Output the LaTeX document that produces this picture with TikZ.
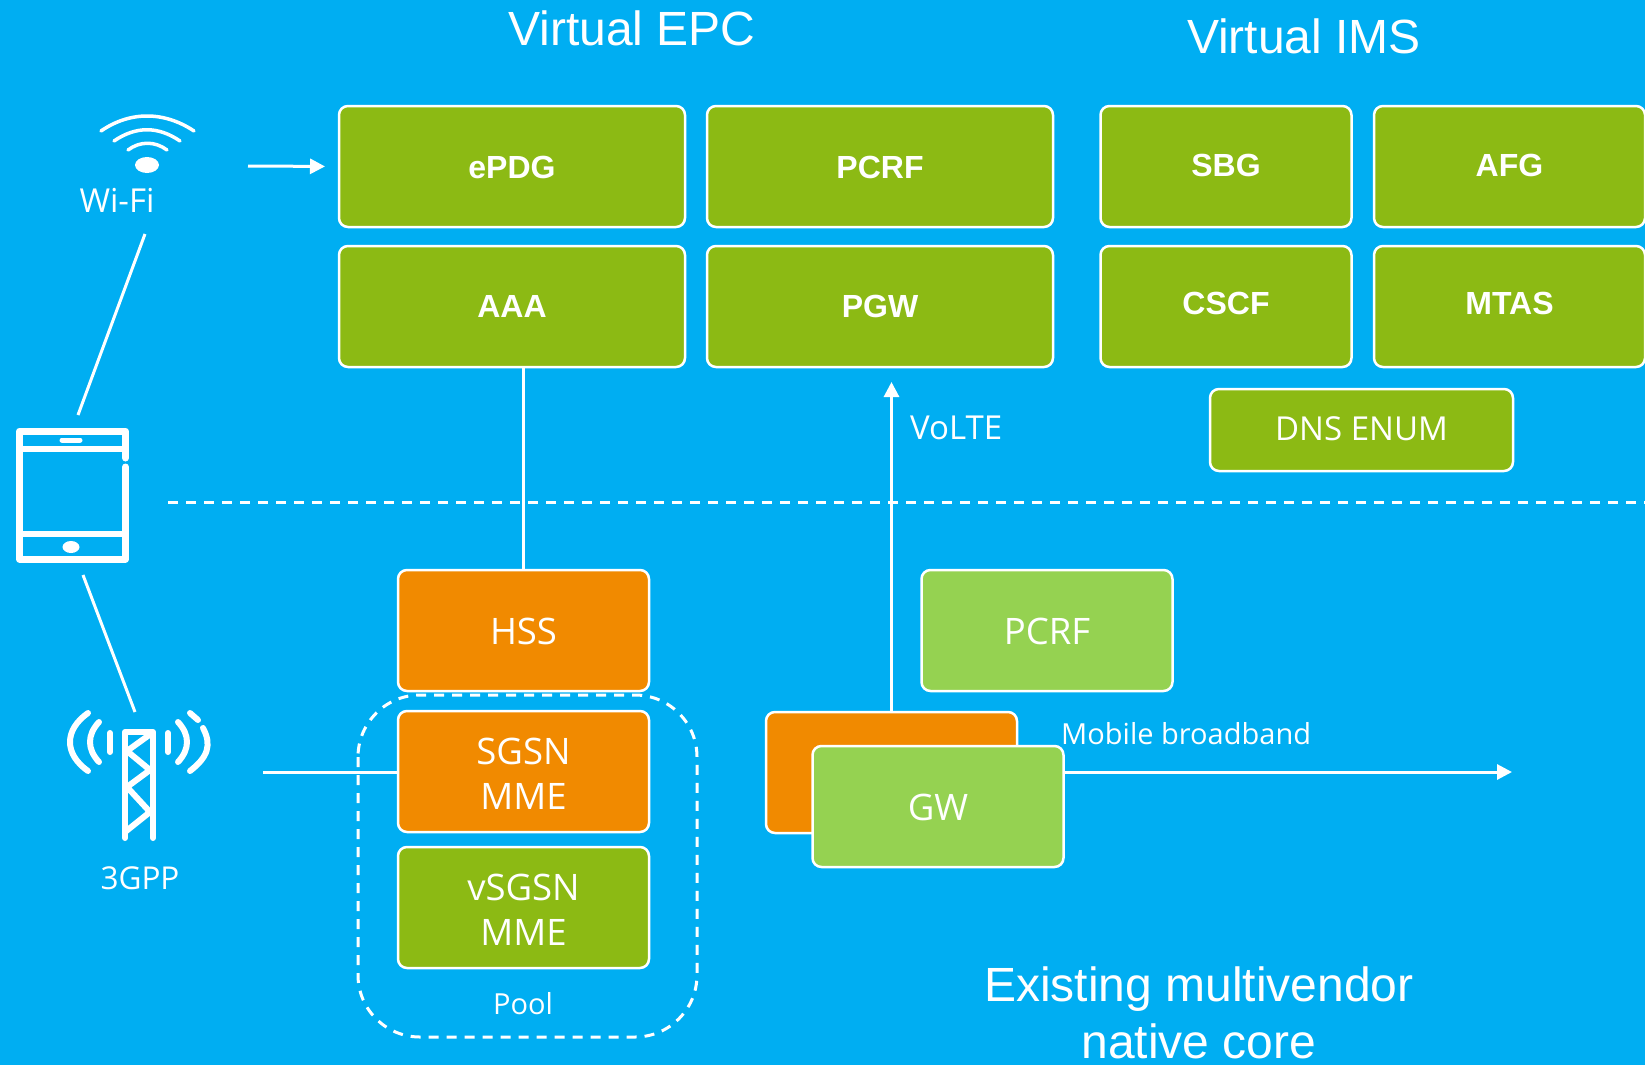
\documentclass[tikz,border=0pt]{standalone}
\usepackage{fontspec}
\setmainfont{Open Sans}
\newfontfamily\arialfont{Liberation Sans}
\usetikzlibrary{positioning,arrows.meta}
\definecolor{skyback}{HTML}{00AEF2}
\definecolor{vnfgreen}{HTML}{8CBA14}
\definecolor{nativeorange}{HTML}{F18A00}
\definecolor{nativegreen}{HTML}{95D251}
\newcommand{\liftlabel}[2]{\raisebox{#1}[\height][\depth]{#2}}
\tikzset{
  box/.style={draw=white, line width=2.5pt, rounded corners=9pt, text=white, align=center, outer sep=0pt, inner sep=0pt, font=\fontsize{36.5}{45}\selectfont},
  vbox/.style={box, fill=vnfgreen, font=\arialfont\bfseries\fontsize{32}{38}\selectfont},
  plainbox/.style={box, fill=vnfgreen},
  orangebox/.style={box, fill=nativeorange},
  lightbox/.style={box, fill=nativegreen},
  epcsize/.style={minimum width=346pt, minimum height=121pt},
  coresize/.style={minimum width=251pt, minimum height=121pt},
  whiteline/.style={draw=white, line width=3pt},
  whitearrow/.style={whiteline, -{Triangle[length=15pt,width=15pt]}},
  dashline/.style={draw=white, line width=3pt, dash pattern=on 10pt off 8pt},
  icon/.style={draw=white, line width=5pt, line cap=round, line join=round},
  label/.style={text=white, inner sep=0pt, font=\fontsize{29}{35}\selectfont},
  biglabel/.style={label, font=\fontsize{33}{40}\selectfont},
  title/.style={text=white, inner sep=0pt, align=center, font=\arialfont\fontsize{48}{57}\selectfont}
}
\begin{document}
\begin{tikzpicture}[x=1pt, y=-1pt]
    \fill[skyback] (0,0) rectangle (1645,1065);
    \useasboundingbox (0,0) rectangle (1645,1065);

    \node[title] (epctitle) at (632,28) {Virtual EPC};
    \node[title] (imstitle) at (1304,36) {Virtual IMS};

    \node[vbox, epcsize] (epdg) at (512,166.5) {\liftlabel{-1pt}{ePDG}};
    \node[vbox, epcsize, right=22pt of epdg] (pcrfv) {\liftlabel{-1pt}{PCRF}};
    \node[vbox, epcsize, below=19pt of epdg] (aaa) {AAA};
    \node[vbox, epcsize, below=19pt of pcrfv] (pgw) {PGW};

    \node[vbox, coresize] (sbg) at (1226,166.5) {\liftlabel{1pt}{SBG}};
    \node[vbox, minimum width=271pt, minimum height=121pt, right=22.5pt of sbg] (afg) {\liftlabel{1pt}{AFG}};
    \node[vbox, coresize, below=19pt of sbg] (cscf) {\liftlabel{3pt}{CSCF}};
    \node[vbox, minimum width=271pt, minimum height=121pt, below=19pt of afg] (mtas) {\liftlabel{3pt}{MTAS}};
    \node[plainbox, minimum width=303pt, minimum height=82pt, font=\fontsize{33}{40}\selectfont] (dns) at (1361.5,430) {\liftlabel{1.5pt}{DNS ENUM}};

    \node[orangebox, coresize] (hss) at (523.5,630.5) {\liftlabel{-1pt}{HSS}};
    \node[orangebox, coresize, below=20pt of hss] (sgsn) {\liftlabel{-2pt}{SGSN}\\\liftlabel{-2pt}{MME}};
    \node[plainbox, coresize, below=15pt of sgsn] (vsgsn) {\liftlabel{-2pt}{vSGSN}\\\liftlabel{-2pt}{MME}};
    \node[lightbox, coresize, right=272.5pt of hss] (pcrfn) {\liftlabel{-1pt}{PCRF}};
    \node[orangebox, coresize] (sgw) at (891.5,772.5) {};
    \node[lightbox, coresize] (gw) at (938,806.5) {\liftlabel{-1pt}{GW}};

    \node[biglabel] (wifilabel) at (117,200) {Wi-Fi};
    \node[label, font=\fontsize{31.5}{38}\selectfont] (gpplabel) at (140,878) {3GPP};
    \node[biglabel, anchor=west] (voltelabel) at (910,428) {VoLTE};
    \node[label, anchor=west] (mbblabel) at (1061,734) {Mobile broadband};
    \node[label] (poollabel) at (523,1004) {Pool};
    \node[title] (nativelabel) at (1199,1012.5) {Existing multivendor\\native core};

    \coordinate (wifiout) at (248,166);
    \coordinate (wifilink) at (145,234);
    \coordinate (tablettop) at (78,415);
    \coordinate (tabletbottom) at (83,575);
    \coordinate (towerlink) at (135,712);
    \coordinate (towerout) at (263,772);
    \coordinate (mbbend) at (1512,772);
    \coordinate (splitstart) at (168,502);
    \coordinate (splitend) at (1645,502);

    \draw[whitearrow, shorten >=14pt] (wifiout) -- (epdg.west);
    \draw[whiteline] (wifilink) -- (tablettop);
    \draw[whiteline] (tabletbottom) -- (towerlink);
    \draw[whiteline] (towerout) -- (towerout -| sgsn.west);
    \draw[whiteline] (hss.north) -- (hss.north |- aaa.south);
    \draw[whitearrow, shorten >=15pt] (sgw.north) -- (sgw.north |- pgw.south);
    \draw[whitearrow] (gw.east |- mbbend) -- (mbbend);
    \draw[dashline] (splitstart) -- (splitend);
    \draw[dashline, rounded corners=62pt] (358,695) rectangle (697,1037);

    \draw[icon, line width=3.5pt] (101,131) .. controls (130,111) and (164,111) .. (194,131);
    \draw[icon, line width=3.5pt] (114,141) .. controls (136,126) and (158,126) .. (180,141);
    \draw[icon, line width=3.5pt] (128,150) .. controls (140,141) and (155,141) .. (167,150);
    \fill[white] (147,165) ellipse [x radius=12, y radius=8];

    \draw[icon, line width=7pt] (125.5,458) -- (125.5,431) -- (19.5,431) -- (19.5,559) -- (125.5,559) -- (125.5,467);
    \draw[icon, line width=6pt, line cap=butt] (19.5,449) -- (125.5,449) (19.5,534) -- (125.5,534);
    \draw[icon] (62,440) -- (80,440);
    \fill[white] (71,547) ellipse [x radius=8.5, y radius=6];

    \draw[icon, line width=6pt] (125,838) -- (125,732) -- (153,732) -- (153,838);
    \draw[icon, line width=6pt] (152,733) -- (127,751) -- (150,770) -- (127,787) -- (150,812) -- (125,832);
    \draw[icon, line width=6pt] (110,733) -- (110,752) (168,733) -- (168,752);
    \draw[icon, line width=6pt] (99,722) .. controls (87,735) and (87,749) .. (99,762);
    \draw[icon, line width=6pt] (88,713) .. controls (64,730) and (64,754) .. (88,771);
    \draw[icon, line width=6pt] (178,722) .. controls (190,735) and (190,749) .. (178,762);
    \draw[icon, line width=6pt] (190,713) -- (198,720);
    \draw[icon, line width=6pt] (203,728) .. controls (212,745) and (208,757) .. (190,771);
\end{tikzpicture}
\end{document}
